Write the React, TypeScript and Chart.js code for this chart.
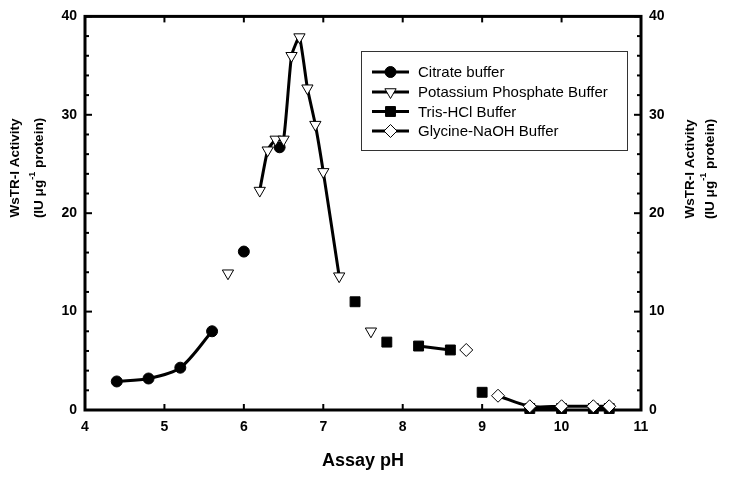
import React, { useEffect, useRef } from 'react';
import { Chart, registerables } from 'chart.js';

Chart.register(...registerables);

// ---- Data ----
const xTickValues = [4, 5, 6, 7, 8, 9, 10, 11];
const yTickValues = [0, 10, 20, 30, 40];
const yMinorStep = 2;

const citratePH = [4.4, 4.8, 5.2, 5.6, 5.8, 6.0, 6.2, 6.45];
const citrateAct = [2.9, 3.2, 4.3, 8.0, null, 16.1, null, 26.7];

const phosphatePH = [5.8, 6.0, 6.2, 6.3, 6.4, 6.5, 6.6, 6.7, 6.8, 6.9, 7.0, 7.2, 7.4, 7.6];
const phosphateAct = [13.9, null, 22.3, 26.4, 27.5, 27.5, 36.0, 37.9, 32.7, 29.0, 24.2, 13.6, null, 8.0];

const trisPH = [7.4, 7.6, 7.8, 8.0, 8.2, 8.6, 8.8, 9.0, 9.3, 9.6, 10.0, 10.2, 10.4, 10.6];
const trisAct = [11.0, null, 6.9, null, 6.5, 6.1, null, 1.8, null, 0.15, 0.15, null, 0.15, 0.15];

const glycinePH = [8.8, 9.0, 9.2, 9.6, 10.0, 10.4, 10.6];
const glycineAct = [6.1, null, 1.45, 0.38, 0.38, 0.38, 0.38];

const seriesLabels = ['Citrate buffer', 'Potassium Phosphate Buffer', 'Tris-HCl Buffer', 'Glycine-NaOH Buffer'];
const xTitle = 'Assay pH';
const yTitleLine1 = 'WsTR-I Activity';
const yTitleLine2a = '(IU \u03bcg';
const yTitleSup = '-1';
const yTitleLine2b = ' protein)';

const FONT = '"Liberation Sans", Arial, Helvetica, sans-serif';

const toXY = (xs: number[], ys: (number | null)[]) => xs.map((x, i) => ({ x, y: ys[i] }));

type MarkerKind = 'circle' | 'triDown' | 'square' | 'diamond';
const markerKinds: MarkerKind[] = ['circle', 'triDown', 'square', 'diamond'];

function drawMarker(ctx: CanvasRenderingContext2D, kind: MarkerKind, x: number, y: number) {
  ctx.save();
  ctx.lineWidth = 1;
  ctx.strokeStyle = '#000';
  ctx.beginPath();
  if (kind === 'circle') {
    ctx.arc(x, y, 5.5, 0, Math.PI * 2);
    ctx.fillStyle = '#000';
  } else if (kind === 'triDown') {
    const r = 6.5;
    ctx.moveTo(x, y + r);
    ctx.lineTo(x - r * Math.sin(Math.PI / 3), y - r / 2);
    ctx.lineTo(x + r * Math.sin(Math.PI / 3), y - r / 2);
    ctx.closePath();
    ctx.fillStyle = '#fff';
  } else if (kind === 'square') {
    const s = 7 * Math.SQRT1_2;
    ctx.rect(x - s, y - s, 2 * s, 2 * s);
    ctx.fillStyle = '#000';
  } else {
    const r = 6.5;
    ctx.moveTo(x, y - r);
    ctx.lineTo(x + r, y);
    ctx.lineTo(x, y + r);
    ctx.lineTo(x - r, y);
    ctx.closePath();
    ctx.fillStyle = '#fff';
  }
  ctx.fill();
  ctx.stroke();
  ctx.restore();
}

function drawYTitle(ctx: CanvasRenderingContext2D, x1: number, x2: number, cy: number) {
  const main = `bold 13.5px ${FONT}`;
  const sup = `bold 9px ${FONT}`;
  ctx.save();
  ctx.fillStyle = '#000';
  ctx.textBaseline = 'middle';
  ctx.save();
  ctx.translate(x1, cy);
  ctx.rotate(-Math.PI / 2);
  ctx.font = main;
  ctx.textAlign = 'center';
  ctx.fillText(yTitleLine1, 0, 0);
  ctx.restore();
  ctx.save();
  ctx.translate(x2, cy);
  ctx.rotate(-Math.PI / 2);
  ctx.font = main;
  const wa = ctx.measureText(yTitleLine2a).width;
  const wb = ctx.measureText(yTitleLine2b).width;
  ctx.font = sup;
  const ws = ctx.measureText(yTitleSup).width;
  const total = wa + ws + wb;
  let px = -total / 2;
  ctx.textAlign = 'left';
  ctx.font = main;
  ctx.fillText(yTitleLine2a, px, 0);
  px += wa;
  ctx.font = sup;
  ctx.fillText(yTitleSup, px, -6);
  px += ws;
  ctx.font = main;
  ctx.fillText(yTitleLine2b, px, 0);
  ctx.restore();
  ctx.restore();
}

const decorPlugin = {
  id: 'decor',
  beforeDatasetsDraw(chart: any) {
    const { ctx, chartArea: a, scales } = chart;
    ctx.save();
    ctx.strokeStyle = '#000';
    ctx.lineWidth = 2;
    const seg = (x1: number, y1: number, x2: number, y2: number) => {
      ctx.beginPath();
      ctx.moveTo(x1, y1);
      ctx.lineTo(x2, y2);
      ctx.stroke();
    };
    const yMax = yTickValues[yTickValues.length - 1];
    for (let v = yTickValues[0]; v <= yMax; v += yMinorStep) {
      const py = scales.y.getPixelForValue(v);
      const len = yTickValues.includes(v) ? 7 : 4;
      seg(a.left, py, a.left + len, py);
      seg(a.right, py, a.right - len, py);
    }
    for (const v of xTickValues) {
      const px = scales.x.getPixelForValue(v);
      seg(px, a.bottom, px, a.bottom - 6);
      seg(px, a.top, px, a.top + 6);
    }
    ctx.lineWidth = 3;
    ctx.strokeRect(a.left, a.top, a.right - a.left, a.bottom - a.top);
    ctx.restore();
  },
  afterDraw(chart: any) {
    const { ctx, chartArea: a } = chart;
    ctx.save();
    ctx.fillStyle = '#000';
    ctx.font = `bold 18px ${FONT}`;
    ctx.textAlign = 'center';
    ctx.textBaseline = 'middle';
    ctx.fillText(xTitle, (a.left + a.right) / 2, 461);
    drawYTitle(ctx, 15.5, 39, 168);
    drawYTitle(ctx, 690, 710, 169);
    ctx.lineWidth = 1;
    ctx.strokeStyle = '#333';
    ctx.strokeRect(361.5, 51.5, 266, 99);
    const rows = [72, 92, 111.5, 131];
    seriesLabels.forEach((label, i) => {
      const y = rows[i];
      ctx.strokeStyle = '#000';
      ctx.lineWidth = 3;
      ctx.beginPath();
      ctx.moveTo(372, y);
      ctx.lineTo(409, y);
      ctx.stroke();
      drawMarker(ctx, markerKinds[i], 390.5, y);
      ctx.fillStyle = '#000';
      ctx.font = `15px ${FONT}`;
      ctx.textAlign = 'left';
      ctx.textBaseline = 'middle';
      ctx.fillText(label, 418, y + 1);
    });
    ctx.restore();
  },
};

export default function App() {
  const canvasRef = useRef<HTMLCanvasElement | null>(null);

  useEffect(() => {
    const canvas = canvasRef.current;
    if (!canvas) return;
    const lineBase = {
      borderColor: '#000',
      borderWidth: 3,
      pointBorderColor: '#000',
      pointBorderWidth: 1,
      tension: 0.3,
      spanGaps: false,
      clip: false as any,
      yAxisID: 'y',
    };
    const chart = new Chart(canvas, {
      type: 'line',
      data: {
        datasets: [
          {
            ...lineBase,
            label: seriesLabels[0],
            data: toXY(citratePH, citrateAct) as any,
            pointStyle: 'circle',
            pointRadius: 5.5,
            pointBackgroundColor: '#000',
            order: 2,
          },
          {
            ...lineBase,
            label: seriesLabels[1],
            data: toXY(phosphatePH, phosphateAct) as any,
            pointStyle: 'triangle',
            pointRotation: 180,
            pointRadius: 6.5,
            pointBackgroundColor: '#fff',
            tension: 0.15,
            order: 1,
          },
          {
            ...lineBase,
            label: seriesLabels[2],
            data: toXY(trisPH, trisAct) as any,
            pointStyle: 'rect',
            pointRadius: 7,
            pointBackgroundColor: '#000',
            order: 3,
          },
          {
            ...lineBase,
            label: seriesLabels[3],
            data: toXY(glycinePH, glycineAct) as any,
            pointStyle: 'rectRot',
            pointRadius: 6.5,
            pointBackgroundColor: '#fff',
            order: 0,
          },
        ],
      },
      options: {
        animation: false,
        responsive: false,
        devicePixelRatio: 1,
        layout: { padding: { top: 11, left: 0, right: 0, bottom: 0 } },
        plugins: {
          legend: { display: false },
          tooltip: { enabled: false },
        },
        scales: {
          x: {
            type: 'linear',
            min: xTickValues[0],
            max: xTickValues[xTickValues.length - 1],
            afterFit: (s: any) => {
              s.height = 67;
            },
            afterBuildTicks: (s: any) => {
              s.ticks = xTickValues.map((v) => ({ value: v }));
            },
            grid: { display: false, drawTicks: false },
            border: { display: false },
            ticks: {
              padding: 9,
              color: '#000',
              font: { family: FONT, size: 14, weight: 'bold' },
              maxRotation: 0,
            },
          },
          y: {
            type: 'linear',
            position: 'left',
            min: yTickValues[0],
            max: yTickValues[yTickValues.length - 1],
            afterFit: (s: any) => {
              s.width = 85;
            },
            afterBuildTicks: (s: any) => {
              s.ticks = yTickValues.map((v) => ({ value: v }));
            },
            grid: { display: false, drawTicks: false },
            border: { display: false },
            ticks: {
              padding: 8,
              color: '#000',
              font: { family: FONT, size: 14, weight: 'bold' },
            },
          },
          y2: {
            type: 'linear',
            position: 'right',
            min: yTickValues[0],
            max: yTickValues[yTickValues.length - 1],
            afterFit: (s: any) => {
              s.width = 90;
            },
            afterBuildTicks: (s: any) => {
              s.ticks = yTickValues.map((v) => ({ value: v }));
            },
            grid: { display: false, drawTicks: false },
            border: { display: false },
            ticks: {
              padding: 8,
              color: '#000',
              font: { family: FONT, size: 14, weight: 'bold' },
            },
          },
        },
      } as any,
      plugins: [decorPlugin],
    });
    return () => chart.destroy();
  }, []);

  return (
    <div style={{ position: 'absolute', left: 0, top: 0, width: 731, height: 477, background: '#fff' }}>
      <canvas ref={canvasRef} width={731} height={477} style={{ display: 'block', width: 731, height: 477 }} />
    </div>
  );
}
